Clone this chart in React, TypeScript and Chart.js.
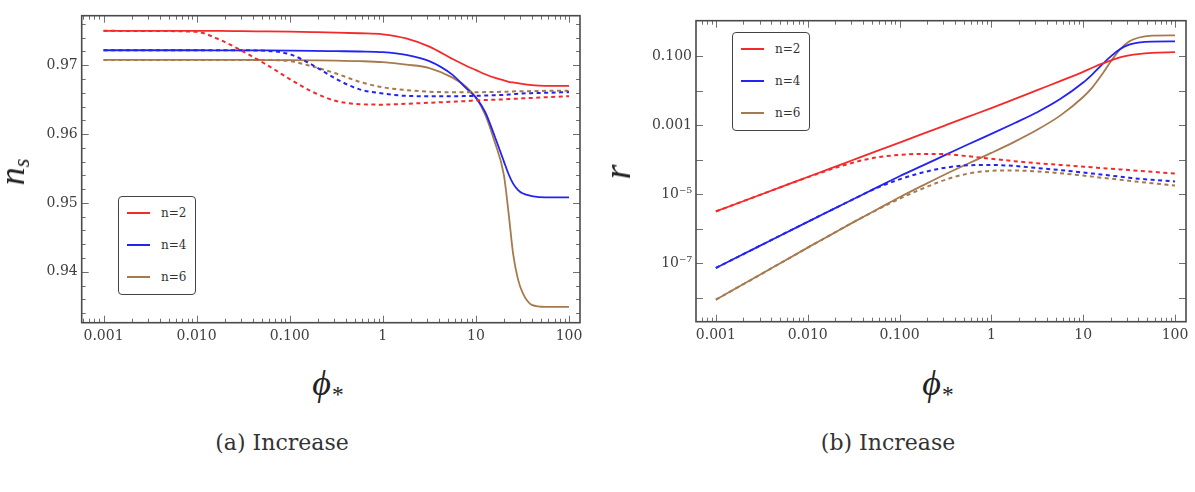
import React, { useEffect, useRef } from "react";
import { Chart, registerables } from "chart.js";

Chart.register(...registerables);

// ---------- Panel (a): n_s versus phi_* ----------
const phiA = [0.001, 0.00316, 0.01, 0.0178, 0.0316, 0.0562, 0.1, 0.178, 0.316, 0.562, 1, 1.78, 3.16, 5.62, 7.94, 10, 12.6, 15.8, 20.0, 22.4, 25.1, 28.2, 31.6, 39.8, 56.2, 100];
const nsSolid2 = [0.975, 0.975, 0.975, 0.975, 0.97495, 0.97492, 0.97488, 0.97482, 0.97475, 0.97465, 0.9745, 0.9739, 0.9727, 0.9709, 0.9699, 0.9693, 0.9687, 0.9682, 0.9678, 0.9676, 0.9675, 0.9674, 0.9673, 0.9671, 0.967, 0.967];
const nsSolid4 = [0.97218, 0.97218, 0.97218, 0.97217, 0.97216, 0.97215, 0.97213, 0.9721, 0.97205, 0.972, 0.9719, 0.9715, 0.9706, 0.9686, 0.9666, 0.9653, 0.9632, 0.9598, 0.956, 0.9542, 0.9528, 0.9519, 0.9514, 0.951, 0.9508, 0.9508];
const nsSolid6 = [0.97078, 0.97078, 0.97078, 0.97077, 0.97077, 0.97076, 0.97075, 0.97072, 0.97068, 0.9706, 0.97045, 0.9701, 0.9696, 0.9682, 0.9668, 0.9653, 0.9628, 0.959, 0.954, 0.9486, 0.9426, 0.939, 0.937, 0.9352, 0.9349, 0.9349];
const nsDash2 = [0.975, 0.97498, 0.97485, 0.9737, 0.972, 0.9701, 0.968, 0.9661, 0.9648, 0.96435, 0.96428, 0.9644, 0.96455, 0.9647, 0.9648, 0.9649, 0.96495, 0.965, 0.96505, 0.9651, 0.96512, 0.96515, 0.9652, 0.96525, 0.96535, 0.9655];
const nsDash4 = [0.97218, 0.97218, 0.97218, 0.97218, 0.97217, 0.9721, 0.9716, 0.97, 0.968, 0.9665, 0.9659, 0.96555, 0.9655, 0.9655, 0.96553, 0.96556, 0.9656, 0.96565, 0.9657, 0.96575, 0.9658, 0.96585, 0.9659, 0.96595, 0.966, 0.9661];
const nsDash6 = [0.97078, 0.97078, 0.97078, 0.97078, 0.97077, 0.97076, 0.9706, 0.9698, 0.9688, 0.9676, 0.9668, 0.9664, 0.96615, 0.96608, 0.96607, 0.96607, 0.9661, 0.96612, 0.96615, 0.96618, 0.9662, 0.96622, 0.96623, 0.96625, 0.96628, 0.9663];

// ---------- Panel (b): r versus phi_* ----------
const phiB = [0.001, 0.00316, 0.01, 0.0178, 0.0316, 0.0562, 0.1, 0.178, 0.316, 0.562, 1, 1.78, 3.16, 5.62, 10, 12.6, 15.8, 20.0, 25.1, 31.6, 39.8, 56.2, 100];
const rSolid2 = [3.16e-6, 1.0e-5, 3.16e-5, 5.62e-5, 1.0e-4, 1.78e-4, 3.16e-4, 5.62e-4, 1.0e-3, 1.78e-3, 3.16e-3, 5.75e-3, 1.05e-2, 1.91e-2, 3.55e-2, 4.68e-2, 6.03e-2, 7.59e-2, 9.33e-2, 0.107, 0.117, 0.126, 0.132];
const rSolid4 = [7.24e-8, 3.39e-7, 1.58e-6, 3.39e-6, 7.24e-6, 1.55e-5, 3.31e-5, 6.76e-5, 1.38e-4, 2.82e-4, 5.62e-4, 1.15e-3, 2.4e-3, 5.75e-3, 1.74e-2, 3.02e-2, 5.5e-2, 0.1, 0.162, 0.219, 0.251, 0.269, 0.272];
const rSolid6 = [8.71e-9, 4.9e-8, 2.82e-7, 6.61e-7, 1.55e-6, 3.55e-6, 8.13e-6, 1.78e-5, 3.8e-5, 7.76e-5, 1.58e-4, 3.31e-4, 7.41e-4, 1.91e-3, 6.61e-3, 1.26e-2, 2.82e-2, 7.08e-2, 0.158, 0.269, 0.347, 0.398, 0.407];
const rDash2 = [3.16e-6, 1.0e-5, 3.09e-5, 5.25e-5, 8.32e-5, 1.17e-4, 1.38e-4, 1.48e-4, 1.45e-4, 1.26e-4, 1.07e-4, 9.12e-5, 7.94e-5, 7.08e-5, 6.31e-5, 6.03e-5, 5.75e-5, 5.5e-5, 5.25e-5, 5.01e-5, 4.79e-5, 4.47e-5, 3.98e-5];
const rDash4 = [7.24e-8, 3.39e-7, 1.58e-6, 3.39e-6, 7.24e-6, 1.51e-5, 2.69e-5, 4.27e-5, 5.89e-5, 6.92e-5, 7.08e-5, 6.61e-5, 5.75e-5, 5.01e-5, 4.27e-5, 3.98e-5, 3.72e-5, 3.47e-5, 3.24e-5, 3.02e-5, 2.82e-5, 2.63e-5, 2.34e-5];
const rDash6 = [8.71e-9, 4.9e-8, 2.82e-7, 6.61e-7, 1.55e-6, 3.47e-6, 7.41e-6, 1.45e-5, 2.63e-5, 3.98e-5, 4.79e-5, 4.9e-5, 4.57e-5, 4.07e-5, 3.47e-5, 3.24e-5, 3.02e-5, 2.82e-5, 2.63e-5, 2.45e-5, 2.29e-5, 2.09e-5, 1.78e-5];

// ---------- ticks & labels ----------
const xTickValues = [0.001, 0.01, 0.1, 1, 10, 100];
const xTickLabels = ["0.001", "0.010", "0.100", "1", "10", "100"];
const nsTickValues = [0.94, 0.95, 0.96, 0.97];
const nsTickLabels = ["0.94", "0.95", "0.96", "0.97"];
const rTickValues = [1e-8, 1e-7, 1e-6, 1e-5, 1e-4, 1e-3, 1e-2, 1e-1];
const rTickLabels = ["", "10\u207B\u2077", "", "10\u207B\u2075", "", "0.001", "", "0.100"];
const seriesLabels = ["n=2", "n=4", "n=6"];

const RED = "#f42a2a";
const BLUE = "#2323f2";
const BROWN = "#a67a4e";
const seriesColors = [RED, BLUE, BROWN];

const TICK_FONT = { family: "DejaVu Serif", size: 14 };
const TICK_COLOR = "#404040";

function labelFor(values: number[], labels: string[], v: number) {
  for (let i = 0; i < values.length; i++) {
    if (Math.abs(v - values[i]) <= Math.abs(values[i]) * 1e-6) return labels[i];
  }
  return "";
}

function logMinor(): number[] {
  const out: number[] = [];
  for (let e = -4; e <= 2; e++) for (let m = 2; m <= 9; m++) out.push(m * Math.pow(10, e));
  return out;
}

function linMinor(from: number, to: number, step: number): number[] {
  const out: number[] = [];
  for (let v = from; v <= to + 1e-9; v += step) out.push(+v.toFixed(6));
  return out;
}

function framePlugin(xMajor: number[], xMinor: number[], yMajor: number[], yMinor: number[]) {
  return {
    id: "frameTicks",
    afterDatasetsDraw(chart: any) {
      const { ctx, chartArea } = chart;
      const { left, right, top, bottom } = chartArea;
      const xs = chart.scales.x;
      const ys = chart.scales.y;
      ctx.save();
      const seg = (x1: number, y1: number, x2: number, y2: number) => {
        ctx.beginPath();
        ctx.moveTo(x1, y1);
        ctx.lineTo(x2, y2);
        ctx.stroke();
      };
      ctx.strokeStyle = "#707070";
      ctx.lineWidth = 1;
      const xt = (vals: number[], len: number) =>
        vals.forEach((v) => {
          const p = Math.round(xs.getPixelForValue(v)) + 0.5;
          if (p < left + 1 || p > right - 1) return;
          seg(p, bottom, p, bottom - len);
          seg(p, top, p, top + len);
        });
      const yt = (vals: number[], len: number) =>
        vals.forEach((v) => {
          const p = Math.round(ys.getPixelForValue(v)) + 0.5;
          if (p < top + 1 || p > bottom - 1) return;
          seg(left, p, left + len, p);
          seg(right, p, right - len, p);
        });
      xt(xMajor, 7);
      xt(xMinor, 4);
      yt(yMajor, 7);
      yt(yMinor, 4);
      ctx.strokeStyle = "#4a4a4a";
      ctx.lineWidth = 1.6;
      ctx.strokeRect(left, top, right - left, bottom - top);
      ctx.restore();
    },
  };
}

function ds(xs: number[], ys: number[], color: string, dashed: boolean, label: string) {
  return {
    label,
    data: xs.map((x, i) => ({ x, y: ys[i] })),
    borderColor: color,
    backgroundColor: color,
    borderWidth: dashed ? 2 : 1.8,
    borderDash: dashed ? [4, 3.5] : [],
    pointRadius: 0,
    fill: false,
    cubicInterpolationMode: "monotone",
  };
}

function baseOptions(pad: any, yWidth: number, xHeight: number, xMin: number, xMax: number, yScale: any) {
  return {
    responsive: false,
    animation: false,
    devicePixelRatio: 1,
    layout: { padding: pad },
    plugins: { legend: { display: false }, tooltip: { enabled: false } },
    scales: {
      x: {
        type: "logarithmic",
        bounds: "data",
        min: xMin,
        max: xMax,
        grid: { display: false, drawTicks: false },
        border: { display: false },
        afterBuildTicks: (s: any) => {
          s.ticks = xTickValues.map((v) => ({ value: v }));
        },
        afterFit: (s: any) => {
          s.height = xHeight;
        },
        ticks: {
          callback: (v: number) => labelFor(xTickValues, xTickLabels, v),
          font: TICK_FONT,
          color: TICK_COLOR,
          padding: 5,
          autoSkip: false,
          maxRotation: 0,
        },
      },
      y: {
        ...yScale,
        bounds: "data",
        grid: { display: false, drawTicks: false },
        border: { display: false },
        afterFit: (s: any) => {
          s.width = yWidth;
        },
      },
    },
  };
}

function configA() {
  return {
    type: "line",
    data: {
      datasets: [
        ds(phiA, nsDash2, RED, true, "n=2 dashed"),
        ds(phiA, nsDash4, BLUE, true, "n=4 dashed"),
        ds(phiA, nsDash6, BROWN, true, "n=6 dashed"),
        ds(phiA, nsSolid2, RED, false, seriesLabels[0]),
        ds(phiA, nsSolid4, BLUE, false, seriesLabels[1]),
        ds(phiA, nsSolid6, BROWN, false, seriesLabels[2]),
      ],
    },
    options: baseOptions({ left: 0, top: 15.7, right: 20, bottom: 0 }, 81.7, 22.3, 0.000583, 131.2, {
      type: "linear",
      min: 0.9326,
      max: 0.9772,
      afterBuildTicks: (s: any) => {
        s.ticks = nsTickValues.map((v) => ({ value: v }));
      },
      ticks: {
        callback: (v: number) => labelFor(nsTickValues, nsTickLabels, v),
        font: TICK_FONT,
        color: TICK_COLOR,
        padding: 4,
        autoSkip: false,
      },
    }),
    plugins: [framePlugin(xTickValues, logMinor(), nsTickValues, linMinor(0.934, 0.976, 0.002))],
  };
}

function configB() {
  return {
    type: "line",
    data: {
      datasets: [
        ds(phiB, rDash2, RED, true, "n=2 dashed"),
        ds(phiB, rDash4, BLUE, true, "n=4 dashed"),
        ds(phiB, rDash6, BROWN, true, "n=6 dashed"),
        ds(phiB, rSolid2, RED, false, seriesLabels[0]),
        ds(phiB, rSolid4, BLUE, false, seriesLabels[1]),
        ds(phiB, rSolid6, BROWN, false, seriesLabels[2]),
      ],
    },
    options: baseOptions({ left: 0, top: 20.7, right: 9, bottom: 0 }, 96, 23.3, 0.000608, 131.8, {
      type: "logarithmic",
      min: 2.0e-9,
      max: 1.084,
      afterBuildTicks: (s: any) => {
        s.ticks = rTickValues.map((v) => ({ value: v }));
      },
      ticks: {
        callback: (v: number) => labelFor(rTickValues, rTickLabels, v),
        font: TICK_FONT,
        color: TICK_COLOR,
        padding: 4,
        autoSkip: false,
      },
    }),
    plugins: [framePlugin(xTickValues, logMinor(), rTickValues, [])],
  };
}

function ChartCanvas({ left, top, width, height, make }: any) {
  const ref = useRef<HTMLCanvasElement>(null);
  useEffect(() => {
    const chart = new Chart(ref.current as HTMLCanvasElement, make() as any);
    return () => chart.destroy();
  }, []);
  return (
    <canvas
      ref={ref}
      width={width}
      height={height}
      style={{ position: "absolute", left, top, width, height }}
    />
  );
}

function Legend({ left, top }: { left: number; top: number }) {
  return (
    <div
      style={{
        position: "absolute",
        left,
        top,
        width: 78,
        height: 99,
        border: "1.6px solid #444",
        borderRadius: 4,
        boxSizing: "border-box",
        background: "#fff",
      }}
    >
      {seriesLabels.map((lab, i) => (
        <React.Fragment key={lab}>
          <div
            style={{
              position: "absolute",
              left: 8,
              top: 16 + i * 32.2 - 1.1,
              width: 23,
              height: 2.2,
              background: seriesColors[i],
            }}
          />
          <div
            style={{
              position: "absolute",
              left: 42,
              top: 16 + i * 32.2 - 9,
              fontFamily: "DejaVu Serif",
              fontSize: 12,
              lineHeight: "18px",
              color: "#333",
              whiteSpace: "nowrap",
            }}
          >
            {lab}
          </div>
        </React.Fragment>
      ))}
    </div>
  );
}

const mathStyle: any = {
  position: "absolute",
  fontFamily: "Liberation Serif",
  fontStyle: "italic",
  color: "#222",
  lineHeight: 1,
  whiteSpace: "nowrap",
};

const starStyle: any = { fontSize: "0.65em", fontStyle: "normal", position: "relative", top: "0.28em", marginLeft: 1 };

export default function App() {
  return (
    <div
      style={{
        position: "fixed",
        left: 0,
        top: 0,
        width: 1195,
        height: 492,
        background: "#fff",
        overflow: "hidden",
      }}
    >
      <ChartCanvas left={0} top={0} width={600} height={345} make={configA} />
      <ChartCanvas left={600} top={0} width={595} height={345} make={configB} />
      <Legend left={118} top={196} />
      <Legend left={732} top={32} />

      <div style={{ ...mathStyle, left: 12, top: 172, fontSize: 36, transform: "translate(-50%,-50%) rotate(-90deg)" }}>
        n<span style={{ fontSize: "0.62em", position: "relative", top: "0.22em" }}>s</span>
      </div>
      <div style={{ ...mathStyle, left: 617, top: 172, fontSize: 38, transform: "translate(-50%,-50%) rotate(-90deg)" }}>
        r
      </div>

      <div style={{ ...mathStyle, left: 328, top: 383, fontSize: 36, transform: "translate(-50%,-50%)" }}>
        {"\u03D5"}
        <span style={starStyle}>*</span>
      </div>
      <div style={{ ...mathStyle, left: 938, top: 383, fontSize: 36, transform: "translate(-50%,-50%)" }}>
        {"\u03D5"}
        <span style={starStyle}>*</span>
      </div>

      <div
        style={{
          position: "absolute",
          left: 282,
          top: 443,
          transform: "translate(-50%,-50%)",
          fontFamily: "DejaVu Serif",
          fontSize: 22,
          color: "#333",
          whiteSpace: "nowrap",
          lineHeight: 1,
        }}
      >
        (a) Increase
      </div>
      <div
        style={{
          position: "absolute",
          left: 888,
          top: 443,
          transform: "translate(-50%,-50%)",
          fontFamily: "DejaVu Serif",
          fontSize: 22,
          color: "#333",
          whiteSpace: "nowrap",
          lineHeight: 1,
        }}
      >
        (b) Increase
      </div>
    </div>
  );
}
